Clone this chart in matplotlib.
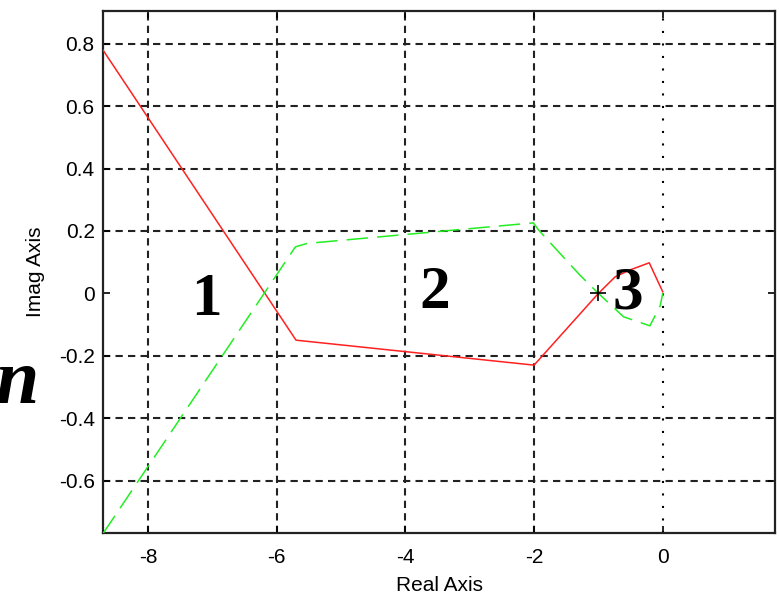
import matplotlib.pyplot as plt

# root locus branches (real, imag)
red_re = [-8.7, -5.7, -2.0, -1.0, -0.74, -0.51, -0.21, 0.0]
red_im = [0.78, -0.15, -0.23, 0.0, 0.053, 0.075, 0.098, 0.005]
green_re = [-8.7, -5.71, -5.53, -2.01, -1.93, -1.29, -1.0, -0.61, -0.2, -0.04, 0.0]
green_im = [-0.77, 0.149, 0.16, 0.226, 0.203, 0.059, 0.0, -0.075, -0.104, -0.04, 0.0]
xticks = [-8, -6, -4, -2, 0]
yticks = [-0.6, -0.4, -0.2, 0, 0.2, 0.4, 0.6, 0.8]
regions = [("1", -7.1, -0.02), ("2", -3.55, 0.0), ("3", -0.55, 0.0)]

fig = plt.figure(figsize=(7.79, 6.06), dpi=100)
ax = fig.add_axes([0.1322, 0.1205, 0.8627, 0.8613])

# grid: dashed everywhere, dotted line along the imaginary axis
for x in xticks:
    if x == 0:
        ax.axvline(x, color='k', lw=1.5, ls=(0, (1, 5)), zorder=1)
    else:
        ax.axvline(x, color='#222222', lw=1.5, ls=(0, (3.5, 2.5)), zorder=1)
for y in yticks:
    if y != 0:
        ax.axhline(y, color='#222222', lw=1.5, ls=(0, (3.5, 2.5)), zorder=1)

ax.plot(red_re, red_im, color='#ff2020', lw=1.1, zorder=3)
ax.plot(green_re, green_im, color='#22ee22', lw=1.1, ls=(0, (14, 6)), zorder=3)
ax.plot([-1], [0], marker='+', color='k', ms=11, mew=1.2, zorder=4)

for txt, x, y in regions:
    ax.text(x, y, txt, fontsize=44, fontweight='bold', family='Liberation Serif',
            ha='center', va='center', zorder=5)

fig.text(0.022, 0.365, 'n', fontsize=56, fontweight='bold', style='italic',
         family='Liberation Serif', ha='center', va='center')

ax.set_xlim(-8.7, 1.745)
ax.set_ylim(-0.768, 0.905)
ax.set_xticks(xticks)
ax.set_yticks(yticks)
ax.set_xticklabels([str(v) for v in xticks])
ax.set_yticklabels(['-0.6', '-0.4', '-0.2', '0', '0.2', '0.4', '0.6', '0.8'])
ax.tick_params(direction='in', top=True, right=True, length=5, width=1.2,
               labelsize=15)
ax.tick_params(axis='x', pad=11)
ax.tick_params(axis='y', pad=6)
for lab in ax.get_xticklabels() + ax.get_yticklabels():
    lab.set_family('Liberation Sans')
for s in ax.spines.values():
    s.set_linewidth(1.6)
    s.set_color('#222222')

ax.set_xlabel('Real Axis', fontsize=15, family='Liberation Sans', labelpad=6)
ax.set_ylabel('Imag Axis', fontsize=15, family='Liberation Sans', labelpad=10)

fig.savefig('out.png', dpi=100)
